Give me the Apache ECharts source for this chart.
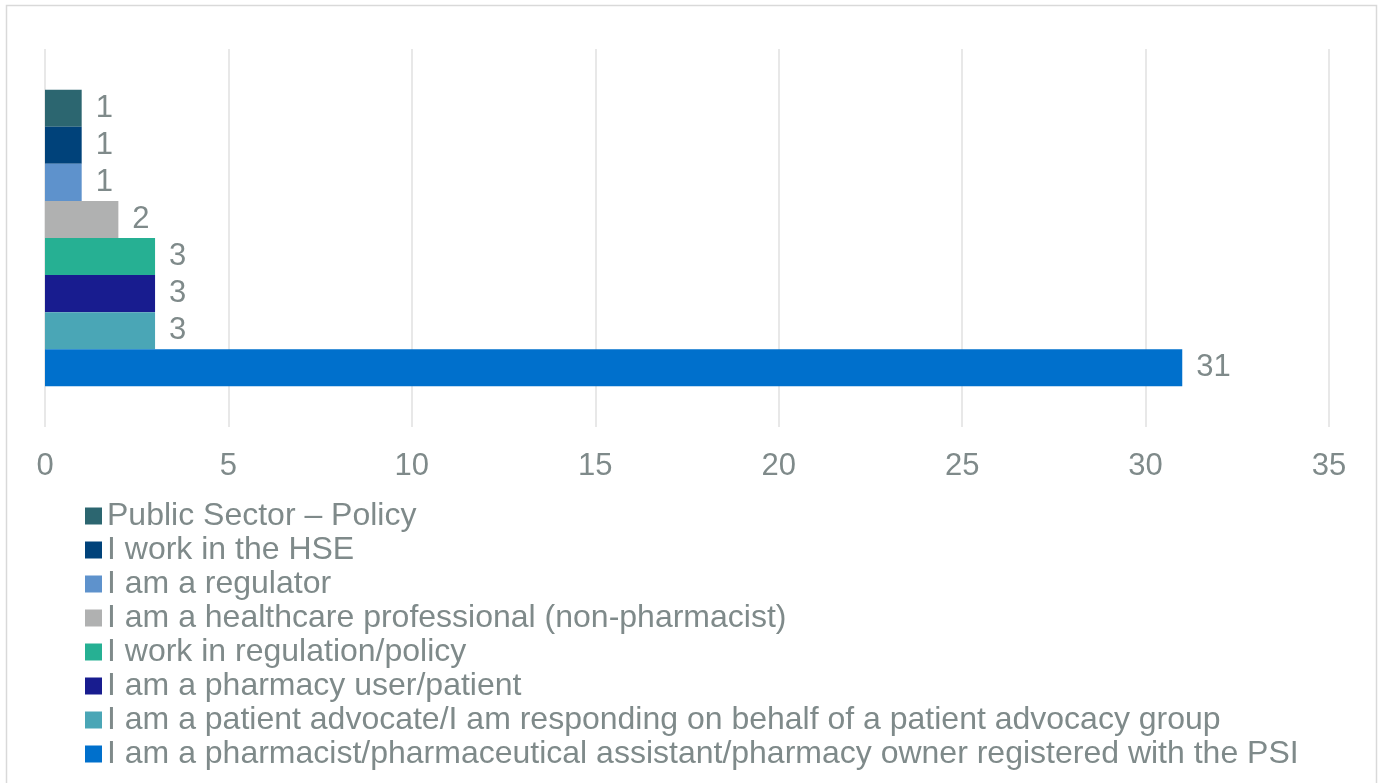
<!DOCTYPE html>
<html><head><meta charset="utf-8">
<script src="https://cdn.jsdelivr.net/npm/echarts@6/dist/echarts.min.js"></script>
<style>html,body{margin:0;padding:0;background:#fff}#c{width:1383px;height:783px}</style>
</head><body><div id="c"></div>
<script>
const seriesNames = [
  "Public Sector – Policy",
  "I work in the HSE",
  "I am a regulator",
  "I am a healthcare professional (non-pharmacist)",
  "I work in regulation/policy",
  "I am a pharmacy user/patient",
  "I am a patient advocate/I am responding on behalf of a patient advocacy group",
  "I am a pharmacist/pharmaceutical assistant/pharmacy owner registered with the PSI"
];
const seriesValues = [1, 1, 1, 2, 3, 3, 3, 31];
const seriesColors = ["#2C6670", "#00427A", "#5E92CC", "#B0B1B1", "#26B093", "#181C8F", "#4AA6B6", "#0070CC"];
const categories = [""];
const xTicks = {min: 0, max: 35, interval: 5};

const textColor = "#7F8A8A";
const chart = echarts.init(document.getElementById('c'));
chart.setOption({
  animation: false,
  backgroundColor: '#fff',
  graphic: [{type: 'rect', shape: {x: 6.5, y: 5.5, width: 1370, height: 800}, style: {fill: 'none', stroke: '#D9D9D9', lineWidth: 1.5}, z: -1}],
  grid: {left: 45, right: 54, top: 49, bottom: 356, containLabel: false},
  xAxis: {
    type: 'value', min: xTicks.min, max: xTicks.max, interval: xTicks.interval,
    axisLine: {show: false}, axisTick: {show: false},
    splitLine: {show: true, lineStyle: {color: '#E0E0E0', width: 1.5}},
    axisLabel: {color: textColor, fontSize: 31, fontFamily: 'Liberation Sans, Arial', margin: 24}
  },
  yAxis: {
    type: 'category', data: categories, inverse: true,
    axisLine: {show: false}, axisTick: {show: false}, axisLabel: {show: false}
  },
  legend: {
    orient: 'vertical', left: 80, top: 494, itemGap: 0, itemWidth: 17, itemHeight: 17,
    icon: 'rect',
    textStyle: {color: textColor, fontSize: 32, fontFamily: 'Liberation Sans, Arial', lineHeight: 34},
    data: seriesNames
  },
  series: seriesNames.map((n, i) => ({
    name: n, type: 'bar', data: [seriesValues[i]],
    barGap: '0%', barCategoryGap: '21.5%',
    itemStyle: {color: seriesColors[i]},
    label: {show: true, position: 'right', distance: 14, color: textColor, fontSize: 31, fontFamily: 'Liberation Sans, Arial'}
  }))
});
</script></body></html>
